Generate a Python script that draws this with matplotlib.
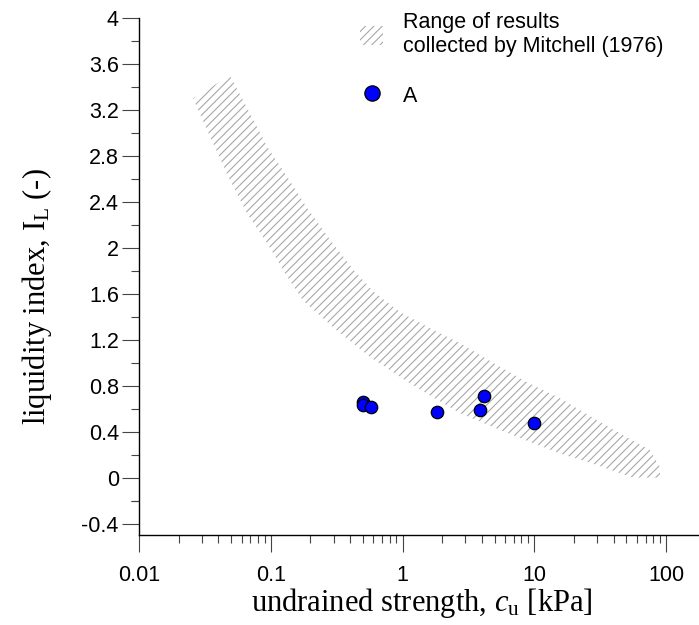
import matplotlib
matplotlib.use("Agg")
import matplotlib.pyplot as plt
from matplotlib.patches import Patch
from matplotlib.lines import Line2D
from matplotlib.ticker import FixedLocator, NullFormatter
import numpy as np

# measured points (A)
cu = [0.50, 0.505, 0.58, 1.83, 4.16, 3.90, 9.95]
IL = [0.655, 0.635, 0.61, 0.57, 0.71, 0.585, 0.475]

# Mitchell (1976) range - upper and lower edge of the band
band_up_x = [0.0257, 0.049, 0.066, 0.094, 0.133, 0.188, 0.282, 0.43, 0.60,
             0.96, 1.62, 2.73, 4.86, 8.81, 15.7, 27.9, 50.6, 75.6, 90.0]
band_up_y = [3.30, 3.50, 3.22, 2.88, 2.62, 2.35, 2.07, 1.80, 1.62,
             1.44, 1.30, 1.17, 1.00, 0.83, 0.69, 0.52, 0.35, 0.24, 0.09]
band_lo_x = [0.0257, 0.0365, 0.049, 0.066, 0.094, 0.133, 0.176, 0.318, 0.567,
             1.14, 1.70, 2.73, 4.86, 8.81, 15.7, 27.9, 56.0, 90.0]
band_lo_y = [3.30, 2.91, 2.59, 2.30, 2.04, 1.75, 1.54, 1.28, 1.05,
             0.82, 0.70, 0.56, 0.44, 0.32, 0.21, 0.12, 0.00, 0.00]

x_ticks = [0.01, 0.1, 1, 10, 100]
x_labels = ["0.01", "0.1", "1", "10", "100"]
y_ticks = [-0.4, 0, 0.4, 0.8, 1.2, 1.6, 2, 2.4, 2.8, 3.2, 3.6, 4]
y_labels = ["-0.4", "0", "0.4", "0.8", "1.2", "1.6", "2", "2.4", "2.8", "3.2", "3.6", "4"]

plt.rcParams["font.family"] = ["Liberation Sans", "DejaVu Sans"]
plt.rcParams["mathtext.fontset"] = "custom"
plt.rcParams["mathtext.rm"] = "Liberation Serif"
plt.rcParams["mathtext.it"] = "Liberation Serif:italic"
plt.rcParams["hatch.linewidth"] = 0.8
plt.rcParams["axes.unicode_minus"] = False

fig = plt.figure(figsize=(6.99, 6.25), dpi=100)
ax = fig.add_axes([139 / 699, 90 / 625, 560 / 699, 517 / 625])

ax.set_xscale("log")
ax.set_xlim(0.01, 178)
ax.set_ylim(-0.5, 4)

hatch_col = "#a8a8a8"
ax.fill(band_up_x + band_lo_x[::-1], band_up_y + band_lo_y[::-1],
        facecolor="none", edgecolor=hatch_col, linewidth=0, hatch="////")

ax.scatter(cu, IL, s=80, c="#0000ff", edgecolors="black", linewidths=0.9, zorder=3)

for s in ["top", "right"]:
    ax.spines[s].set_visible(False)
for s in ["left", "bottom"]:
    ax.spines[s].set_linewidth(1.0)

ax.xaxis.set_major_locator(FixedLocator(x_ticks))
ax.set_xticklabels(x_labels)
minors = [m * 10.0 ** e for e in range(-2, 2) for m in range(2, 10)]
ax.xaxis.set_minor_locator(FixedLocator(minors))
ax.xaxis.set_minor_formatter(NullFormatter())

ax.yaxis.set_major_locator(FixedLocator(y_ticks))
ax.set_yticklabels(y_labels)
ax.yaxis.set_minor_locator(FixedLocator([t + 0.2 for t in y_ticks[:-1]] + [-0.2 - 0.0]))

ax.tick_params(which="major", direction="out", length=12.5, width=0.8,
               color="#444444", labelsize=15.5, pad=2)
ax.tick_params(axis="x", which="major", pad=9)
ax.tick_params(which="minor", direction="out", length=6, width=0.8, color="#444444")

ax.set_xlabel("undrained strength, $\\it{c}$$_\\mathregular{u}$ [kPa]",
              family="Liberation Serif", fontsize=22)
ax.set_ylabel("liquidity index, I$_\\mathregular{L}$ (-)",
              family="Liberation Serif", fontsize=22)
ax.xaxis.set_label_coords(0.505, -0.098)
ax.yaxis.set_label_coords(-0.152, 0.462)

handles = [
    Patch(facecolor="none", edgecolor=hatch_col, linewidth=0, hatch="////"),
    Line2D([], [], linestyle="none", marker="o", markersize=11,
           markerfacecolor="#0000ff", markeredgecolor="black", markeredgewidth=0.9),
]
labels = ["Range of results\ncollected by Mitchell (1976)", "A"]
fig.legend(handles, labels, loc="upper left", bbox_to_anchor=(360 / 699, 1 - 12 / 625),
           frameon=False, fontsize=15.5, borderpad=0, borderaxespad=0,
           handlelength=1.07, handleheight=1.0, handletextpad=0.93, labelspacing=1.28)

fig.savefig("out.png", dpi=100)
